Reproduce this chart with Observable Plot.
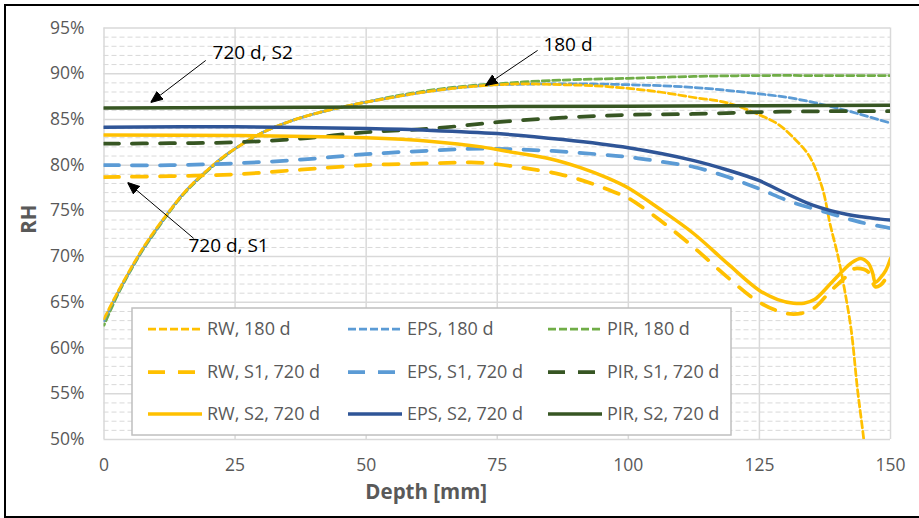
<!DOCTYPE html>
<html>
<head>
<meta charset="utf-8">
<script src="https://cdn.jsdelivr.net/npm/d3@7"></script>
<script src="https://cdn.jsdelivr.net/npm/@observablehq/plot@0.6"></script>
<style>
  html, body { margin: 0; padding: 0; background: #fff; }
  #wrap { position: relative; width: 919px; height: 518px; overflow: hidden; }
  #border { position: absolute; left: 4px; top: 4px; width: 930px; height: 514px; box-sizing: border-box; border: 2px solid #000; pointer-events: none; }
</style>
</head>
<body>
<div id="wrap"><div id="border"></div></div>
<script>
// ---------- data ----------
const rw180X = [0,2.5,5,7.5,10,12.5,15,17.5,20,22.5,25,30,35,40,45,50,55,60,65,70,75,80,87,93,100,106,112.5,119,125,128.5,131.5,134.5,137,138.5,140,141.2,142.5,143.7,144.9,145.4];
const rw180Y = [63.2,66.0,68.6,71.0,73.1,75.0,76.8,78.3,79.6,80.8,81.8,83.5,84.7,85.6,86.3,86.9,87.4,87.9,88.3,88.6,88.8,88.9,88.8,88.7,88.4,88.0,87.4,86.8,85.5,84.5,83.0,81.0,77.5,73.5,70.0,66.5,62.0,55.5,50.0,47.0];

const eps180X = [0,2.5,5,7.5,10,12.5,15,17.5,20,22.5,25,30,35,40,45,50,55,60,65,70,75,80,87,100,112.5,125,131.5,138,144,150];
const eps180Y = [63.0,65.9,68.5,70.9,73.0,75.0,76.8,78.3,79.6,80.8,81.8,83.5,84.7,85.6,86.3,86.9,87.4,87.9,88.3,88.6,88.8,88.85,88.9,88.8,88.5,87.8,87.3,86.5,85.6,84.6];

const pir180X = [0,2.5,5,7.5,10,12.5,15,17.5,20,22.5,25,30,35,40,45,50,55,60,65,70,75,80,87,100,112.5,125,137.5,150];
const pir180Y = [62.5,65.7,68.4,70.8,72.9,74.9,76.7,78.2,79.5,80.7,81.8,83.5,84.7,85.6,86.3,86.9,87.5,88.0,88.4,88.7,88.9,89.1,89.3,89.5,89.7,89.8,89.8,89.8];

const rwS1X = [0,12.5,25,37.5,50,62.5,70,75,80,87,93,98,100,106,112.5,119,125,130,133,135.5,138.5,141.3,142.4,143.7,145.8,147.1,148.1,149.1,150];
const rwS1Y = [78.7,78.8,79.0,79.5,80.0,80.2,80.3,80.1,79.7,79.0,78.0,76.9,76.4,74.0,71.0,67.7,65.0,63.8,63.8,64.4,66.2,67.7,68.5,68.7,68.3,66.7,66.9,67.6,68.5];

const epsS1X = [0,12.5,25,37.5,50,62.5,72,84,94,100,106,112.5,119,125,131,138,144,150];
const epsS1Y = [80.0,80.0,80.2,80.6,81.2,81.6,81.8,81.6,81.2,80.9,80.4,79.8,78.7,77.4,76.0,74.8,73.8,73.1];

const pirS1X = [0,12.5,25,37.5,50,62.5,75,87.5,100,112.5,125,137.5,150];
const pirS1Y = [82.35,82.4,82.5,82.9,83.6,84.0,84.7,85.2,85.5,85.6,85.8,85.9,85.9];

const rwS2X = [0,25,50,62.5,72,78,85,91,96,100,106,112.5,119,125,128.5,131.5,133.5,135.5,138.5,141,142.4,144.3,145.8,146.6,147.1,148.1,149.1,150];
const rwS2Y = [83.3,83.25,83.0,82.6,82.0,81.4,80.7,79.7,78.6,77.5,75.2,72.5,69.2,66.3,65.3,64.9,64.9,65.3,67.0,68.5,69.25,69.8,69.25,68.2,67.2,67.7,68.5,69.8];

const epsS2X = [0,25,50,62.5,75,87.5,100,112.5,118.75,125,129,135.3,141.8,148.1,150];
const epsS2Y = [84.15,84.2,84.0,83.8,83.45,82.8,81.9,80.5,79.5,78.3,77.2,75.6,74.6,74.1,74.0];

const pirS2X = [0,50,100,150];
const pirS2Y = [86.25,86.35,86.45,86.55];

const seriesLabels = ["RW, 180 d","EPS, 180 d","PIR, 180 d","RW, S1, 720 d","EPS, S1, 720 d","PIR, S1, 720 d","RW, S2, 720 d","EPS, S2, 720 d","PIR, S2, 720 d"];

const xTicks = [0,25,50,75,100,125,150];
const yTicks = [50,55,60,65,70,75,80,85,90,95];
const yMinorTicks = [51,52,53,54,56,57,58,59,61,62,63,64,66,67,68,69,71,72,73,74,76,77,78,79,81,82,83,84,86,87,88,89,91,92,93,94];

// annotations: label, text position, arrow tail, arrow head (data units)
const annLabels = ["720 d, S2","180 d","720 d, S1"];
const annTextX = [20.7, 83.8, 16.1];
const annTextY = [92.3, 93.2, 71.2];
const annTailX = [19.4, 82.7, 17.1];
const annTailY = [91.45, 92.55, 72.0];
const annHeadX = [8.9, 72.75, 4.5];
const annHeadY = [86.85, 88.7, 78.1];

// ---------- styles ----------
const YEL = "#FFC000", LBLUE = "#5B9BD5", DBLUE = "#2F5597", LGREEN = "#70AD47", DGREEN = "#375623";
const styles = [
  {stroke: YEL,   dash: "7,3.5", off: 0,    width: 2.75},
  {stroke: LBLUE, dash: "7,3.5", off: 3.5,  width: 2.75},
  {stroke: LGREEN,dash: "7,3.5", off: 5.5,  width: 2.75},
  {stroke: YEL,   dash: "15,13", off: 0,    width: 3.75},
  {stroke: LBLUE, dash: "15,13", off: 0,    width: 3.75},
  {stroke: DGREEN,dash: "15,13", off: 0,    width: 3.75},
  {stroke: YEL,   dash: null,    off: 0,    width: 3.5},
  {stroke: DBLUE, dash: null,    off: 0,    width: 3.5},
  {stroke: DGREEN,dash: null,    off: 0,    width: 3.5}
];
const xs = [rw180X, eps180X, pir180X, rwS1X, epsS1X, pirS1X, rwS2X, epsS2X, pirS2X];
const ys = [rw180Y, eps180Y, pir180Y, rwS1Y, epsS1Y, pirS1Y, rwS2Y, epsS2Y, pirS2Y];
const drawOrder = [2, 1, 0, 3, 4, 5, 6, 7, 8];

const seriesData = xs.map((xa, i) => xa.map((x, j) => ({x, y: ys[i][j], s: seriesLabels[i]})));
const ann = annLabels.map((t, i) => ({t, tx: annTextX[i], ty: annTextY[i], x1: annTailX[i], y1: annTailY[i], x2: annHeadX[i], y2: annHeadY[i]}));

function filledArrow(color, context) {
  const m = d3.create("svg:marker")
    .attr("viewBox", "-12 -6 12 12")
    .attr("refX", 0).attr("refY", 0)
    .attr("markerWidth", 12).attr("markerHeight", 12)
    .attr("markerUnits", "userSpaceOnUse")
    .attr("orient", "auto")
    .attr("fill", "#000");
  m.append("path").attr("d", "M0,0L-12,-5L-12,5Z");
  return m.node();
}

const FONT = "'Open Sans', sans-serif";
const GRID = "#d9d9d9";

const plot = Plot.plot({
  width: 919, height: 518,
  marginLeft: 103.5, marginRight: 29, marginTop: 27.5, marginBottom: 79,
  x: {domain: [0, 150]},
  y: {domain: [50, 95]},
  clip: true,
  style: {fontFamily: FONT, background: "transparent", color: "#595959"},
  marks: [
    Plot.ruleY(yMinorTicks, {stroke: GRID, strokeWidth: 1, strokeDasharray: "5,3", clip: false}),
    Plot.ruleY(yTicks, {stroke: GRID, strokeWidth: 1.5, clip: false}),
    Plot.ruleX(xTicks, {stroke: GRID, strokeWidth: 1.5, clip: false}),
    Plot.axisY(yTicks, {tickSize: 0, tickPadding: 19.5, tickFormat: d => d + "%", fontSize: 17.5, label: null, fill: "#595959"}),
    Plot.axisX(xTicks, {tickSize: 0, tickPadding: 19, fontSize: 17.5, label: null, fill: "#595959"}),
    ...drawOrder.map(i => Plot.line(seriesData[i], {
      x: "x", y: "y", stroke: styles[i].stroke, strokeWidth: styles[i].width,
      strokeDasharray: styles[i].dash ?? undefined, strokeDashoffset: styles[i].off,
      curve: "catmull-rom", clip: true
    })),
    Plot.link(ann, {x1: "x1", y1: "y1", x2: "x2", y2: "y2", stroke: "#000", strokeWidth: 1, markerEnd: filledArrow, clip: false}),
    Plot.text(ann, {x: "tx", y: "ty", text: "t", textAnchor: "start", lineAnchor: "middle", fontSize: 19, fill: "#000", clip: false}),
    Plot.text(["Depth [mm]"], {frameAnchor: "bottom", dx: -71, dy: 53, lineAnchor: "middle", fontSize: 20.5, fontWeight: "bold", fill: "#595959", clip: false}),
    Plot.text(["RH"], {frameAnchor: "left", dx: -74.5, rotate: -90, lineAnchor: "middle", fontSize: 20.5, fontWeight: "bold", fill: "#595959", clip: false})
  ]
});

// ---------- legend (inside the plot, lower left) ----------
const svg = d3.select(plot);
const lg = svg.append("g").attr("font-family", FONT).attr("font-size", 18).attr("fill", "#595959").attr("text-anchor", "start");
lg.append("rect").attr("x", 132).attr("y", 308).attr("width", 599).attr("height", 127)
  .attr("fill", "#fff").attr("stroke", "#bfbfbf").attr("stroke-width", 1.5);
const colX = [148, 348, 548];
const rowY = [329, 372, 414];
seriesLabels.forEach((lab, i) => {
  const c = i % 3, r = Math.floor(i / 3);
  const st = styles[i];
  lg.append("line").attr("x1", colX[c]).attr("x2", colX[c] + 54).attr("y1", rowY[r]).attr("y2", rowY[r])
    .attr("stroke", st.stroke).attr("stroke-width", st.width)
    .attr("stroke-dasharray", st.dash ? (r === 1 ? "17,13" : "8,3") : null);
  lg.append("text").attr("x", colX[c] + 59).attr("y", rowY[r]).attr("dy", "0.35em").attr("text-anchor", "start").text(lab);
});

document.getElementById("wrap").insertBefore(plot, document.getElementById("border"));
</script>
</body>
</html>
